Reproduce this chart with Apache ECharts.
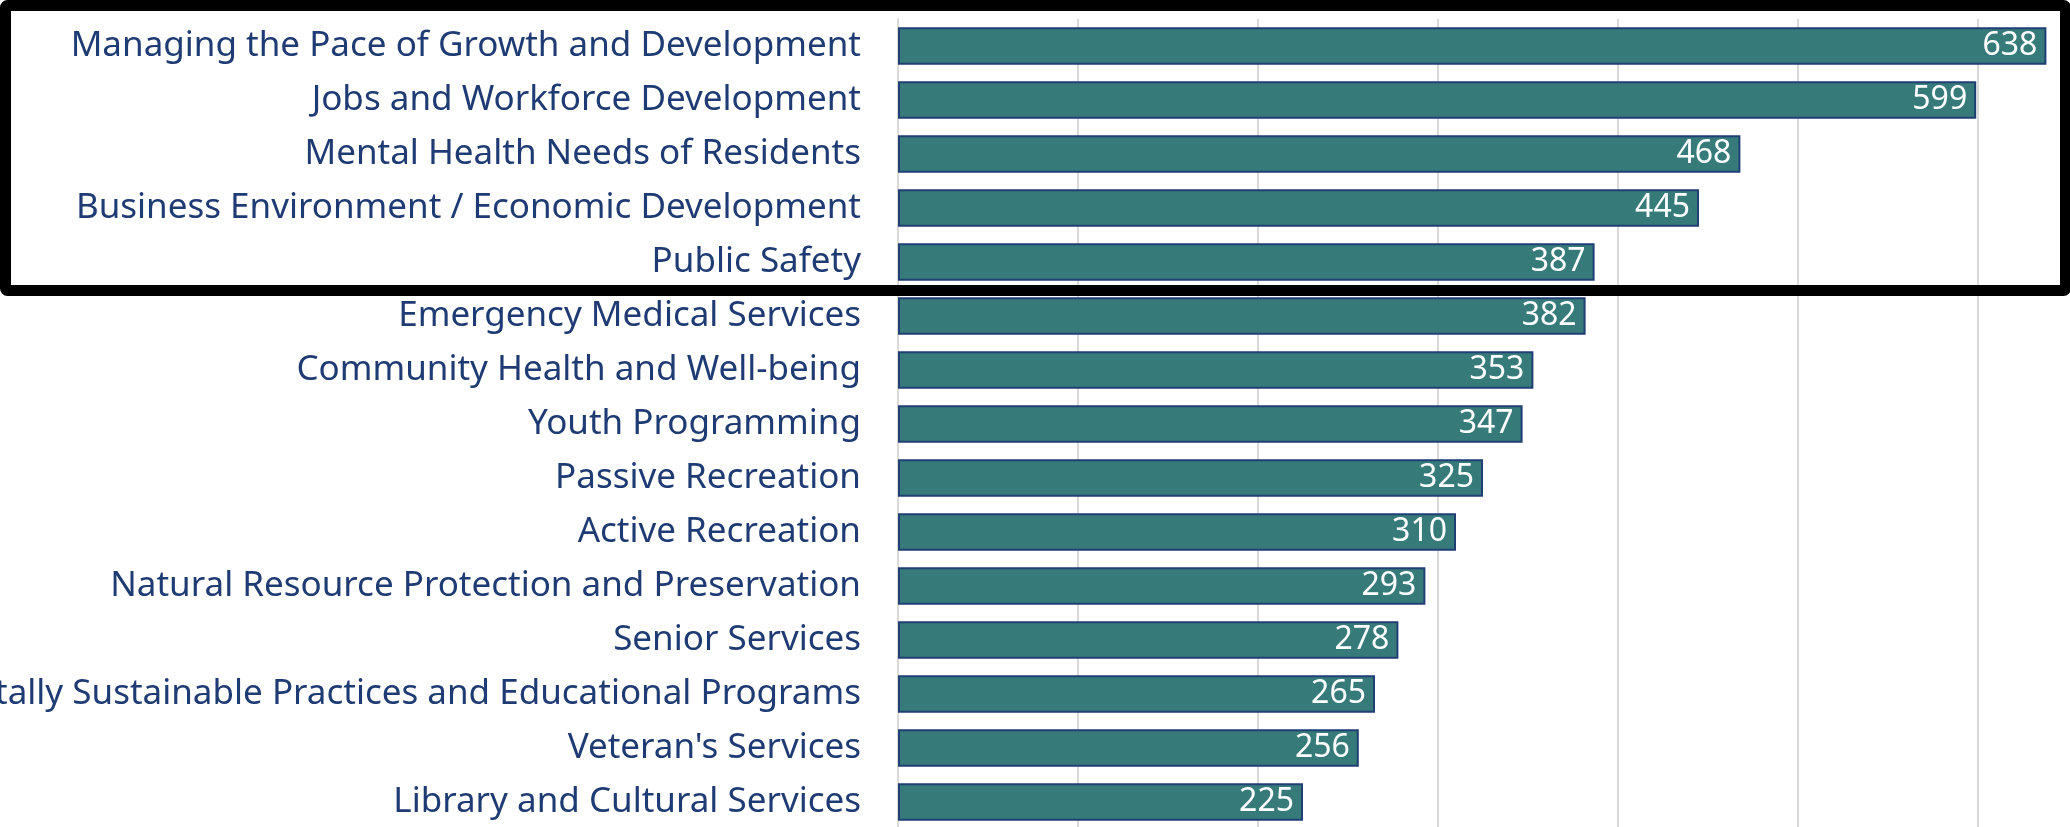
<!DOCTYPE html>
<html>
<head>
<meta charset="utf-8">
<script src="https://cdn.jsdelivr.net/npm/echarts@6/dist/echarts.min.js"></script>
<style>
  html, body { margin: 0; padding: 0; background: #ffffff; }
  #chart { width: 2070px; height: 827px; }
</style>
</head>
<body>
<div id="chart"></div>
<script>
const categories = [
  "Managing the Pace of Growth and Development",
  "Jobs and Workforce Development",
  "Mental Health Needs of Residents",
  "Business Environment / Economic Development",
  "Public Safety",
  "Emergency Medical Services",
  "Community Health and Well-being",
  "Youth Programming",
  "Passive Recreation",
  "Active Recreation",
  "Natural Resource Protection and Preservation",
  "Senior Services",
  "Environmentally Sustainable Practices and Educational Programs",
  "Veteran's Services",
  "Library and Cultural Services"
];
const values = [638, 599, 468, 445, 387, 382, 353, 347, 325, 310, 293, 278, 265, 256, 225];
const axisMin = 0;
const axisMax = 700;
const axisInterval = 100;

const chart = echarts.init(document.getElementById('chart'), null, { renderer: 'canvas' });
chart.setOption({
  animation: false,
  backgroundColor: '#ffffff',
  grid: { left: 898, right: -88, top: 19, bottom: -2, containLabel: false, outerBoundsMode: 'none' },
  xAxis: {
    type: 'value',
    min: axisMin,
    max: axisMax,
    interval: axisInterval,
    axisLabel: { show: false },
    axisLine: { show: false },
    axisTick: { show: false },
    splitLine: { show: true, lineStyle: { color: '#d9d9d9', width: 2 } }
  },
  yAxis: {
    type: 'category',
    data: categories,
    inverse: true,
    axisLine: { show: true, lineStyle: { color: '#d9d9d9', width: 2 } },
    axisTick: { show: false },
    axisLabel: {
      color: '#1f3b73',
      fontFamily: 'Noto Sans',
      fontSize: 35,
      margin: 37
    }
  },
  series: [{
    type: 'bar',
    data: values,
    barCategoryGap: '31%',
    itemStyle: { color: '#367b7a', borderColor: '#1f3f75', borderWidth: 2 },
    label: {
      show: true,
      position: 'insideRight',
      distance: 9,
      color: '#ffffff',
      fontFamily: 'Noto Sans',
      fontSize: 32
    }
  }],
  graphic: [{
    type: 'rect',
    z: 100,
    shape: { x: 5.5, y: 5.5, width: 2060, height: 285, r: 2 },
    style: { fill: null, stroke: '#000000', lineWidth: 11 }
  }]
});
</script>
</body>
</html>
